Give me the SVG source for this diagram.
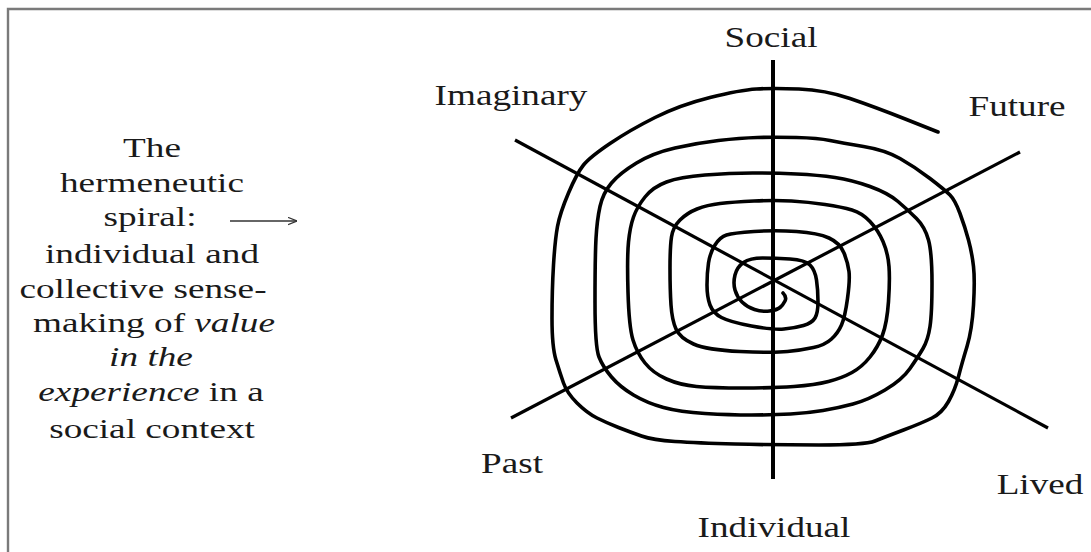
<svg xmlns="http://www.w3.org/2000/svg" width="1091" height="552" viewBox="0 0 1091 552">
<style>
.t{font-family:"Liberation Serif","Times New Roman",serif;fill:#1a1a1a;}
.lbl{font-size:30px;}
.desc{font-size:28px;}
.sp{fill:none;stroke:#000;stroke-width:3.6;stroke-linejoin:round;stroke-linecap:round;}
.ax{fill:none;stroke:#000;stroke-linecap:butt;}
</style>
<defs>
<marker id="ah" viewBox="0 0 10 10" refX="10" refY="5" markerWidth="9" markerHeight="9" markerUnits="userSpaceOnUse" orient="auto">
<path d="M0,1 L10,5 L0,9" fill="none" stroke="#333" stroke-width="1.4"/>
</marker>
</defs>
<rect width="1091" height="552" fill="#fff"/>
<path d="M8,552 V9 H1091" fill="none" stroke="#7a7a7a" stroke-width="2.4"/>

<g id="description">
<text class="t desc" text-anchor="middle" transform="translate(152,157) scale(1.33,1)">The</text>
<text class="t desc" text-anchor="middle" transform="translate(152,192) scale(1.33,1)">hermeneutic</text>
<text class="t desc" text-anchor="middle" transform="translate(150,226) scale(1.33,1)">spiral:</text>
<text class="t desc" text-anchor="middle" transform="translate(152,263) scale(1.33,1)">individual and</text>
<text class="t desc" text-anchor="middle" transform="translate(143,298) scale(1.33,1)">collective sense-</text>
<text class="t desc" text-anchor="middle" transform="translate(154,332) scale(1.33,1)">making of <tspan font-style="italic">value</tspan></text>
<text class="t desc" text-anchor="middle" transform="translate(151,366) scale(1.33,1)"><tspan font-style="italic">in the</tspan></text>
<text class="t desc" text-anchor="middle" transform="translate(151,401) scale(1.33,1)"><tspan font-style="italic">experience</tspan> in a</text>
<text class="t desc" text-anchor="middle" transform="translate(152,438) scale(1.33,1)">social context</text>
</g>

<g id="connectors">
<line x1="230" y1="221" x2="297" y2="221" stroke="#333" stroke-width="1.5" marker-end="url(#ah)"/>
</g>

<g id="axes">
<line class="ax" x1="773" y1="60" x2="773" y2="479" stroke-width="4"/>
<line class="ax" x1="515" y1="140" x2="1048" y2="428" stroke-width="3.2"/>
<line class="ax" x1="511" y1="418" x2="1020" y2="152" stroke-width="3.2"/>
</g>

<g id="spiral">
<path class="sp" d="M938,132 L906.5,119.5 Q875,107 850,98.5 Q825,90 799,89 Q773,88 756.5,89 Q740,90 710,97.5 Q680,105 655,117.5 Q630,130 610,143.5 Q590,157 583.5,165 Q577,173 568.5,193 Q560,213 557.5,226.5 Q555,240 553.5,265 Q552,290 552,318.5 Q552,347 556,360 Q560,373 563.5,383 Q567,393 577,403 Q587,413 597,418 Q607,423 618.5,427.5 Q630,432 641.5,436 Q653,440 675,441.5 Q697,443 735,444 Q773,445 819,445 Q865,445 875,441 Q885,437 903.5,430 Q922,423 932,418 Q942,413 948.5,401.5 Q955,390 958.5,376.5 Q962,363 967,346.5 Q972,330 973.5,305 Q975,280 973.5,266.5 Q972,253 968.5,240 Q965,227 960,213.5 Q955,200 950,195 Q945,190 930,178.5 Q915,167 900,158.5 Q885,150 863.5,146.5 Q842,143 830,140.5 Q818,138 796.5,137.5 Q775,137 757.5,137.5
Q740,138 718.5,140.5 Q697,143 675,148 Q653,153 636.5,163 Q620,173 611.5,183 Q603,193 600,206.5 Q597,220 596,238.5 Q595,257 595,302 Q595,347 599,357 Q603,367 611.5,377 Q620,387 633.5,395 Q647,403 663.5,407.5 Q680,412 705,413.5 Q730,415 751.5,415 Q773,415 790.5,414 Q808,413 823,410.5 Q838,408 853,404 Q868,400 885,390 Q902,380 910,368.5 Q918,357 923,348.5 Q928,340 930,326.5 Q932,313 932,283 Q932,253 928.5,240 Q925,227 916.5,218.5 Q908,210 898,201.5 Q888,193 870,186.5 Q852,180 835,177.5 Q818,175 796.5,174 Q775,173 752.5,173
Q730,173 705,175 Q680,177 666.5,182 Q653,187 645,197 Q637,207 633.5,217 Q630,227 628.5,242 Q627,257 628,292 Q629,327 633,340 Q637,353 645,363 Q653,373 666.5,379 Q680,385 696.5,386.5 Q713,388 743,388 Q773,388 794,386.5 Q815,385 828.5,381.5 Q842,378 852,372.5 Q862,367 870,357 Q878,347 882.5,335 Q887,323 888.5,301.5 Q890,280 889,266.5 Q888,253 883,241.5 Q878,230 870,221.5 Q862,213 852,210 Q842,207 825,204.5 Q808,202 791.5,201 Q775,200 754,201
Q733,202 720,203.5 Q707,205 697,209 Q687,213 680,220 Q673,227 671.5,237 Q670,247 670,268.5 Q670,290 671,305 Q672,320 676,329 Q680,338 693.5,344 Q707,350 740,351.5 Q773,353 787.5,351.5 Q802,350 813.5,347.5 Q825,345 831.5,339 Q838,333 841.5,325 Q845,317 847.5,298.5 Q850,280 849,271.5 Q848,263 844,253 Q840,243 829,238 Q818,233 796.5,231.5 Q775,230 754,231.5
Q733,233 726.5,235 Q720,237 715,245 Q710,253 708.5,263 Q707,273 707,285 Q707,297 710,305 Q713,313 721.5,317.5 Q730,322 751.5,326 Q773,330 784,329 Q795,328 803.5,325.5 Q812,323 815,318 Q818,313 818,301.5 Q818,290 816.5,280 Q815,270 810,265 Q805,260 790,259 Q775,258 762.5,258
Q750,258 743.5,262.5 Q737,267 735,275 Q733,283 735,290 Q737,297 742,302 Q747,307 754.5,309.5 Q762,312 769.5,311 Q777,310 780,307.5 Q783,305 785,301 Q787,297 783,293"/>
</g>

<g id="labels">
<text class="t lbl" text-anchor="middle" transform="translate(771,47) scale(1.24,1)">Social</text>
<text class="t lbl" text-anchor="middle" transform="translate(511,105) scale(1.24,1)">Imaginary</text>
<text class="t lbl" text-anchor="middle" transform="translate(1017,116) scale(1.24,1)">Future</text>
<text class="t lbl" text-anchor="middle" transform="translate(512,473) scale(1.24,1)">Past</text>
<text class="t lbl" text-anchor="middle" transform="translate(1040,494) scale(1.24,1)">Lived</text>
<text class="t lbl" text-anchor="middle" transform="translate(774,537) scale(1.24,1)">Individual</text>
</g>
</svg>
